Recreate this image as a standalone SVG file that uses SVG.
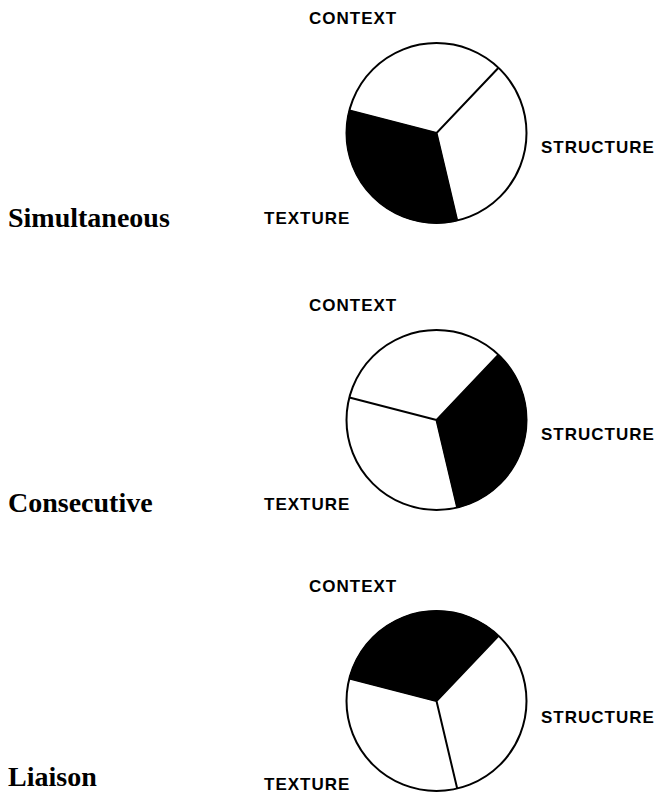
<svg xmlns="http://www.w3.org/2000/svg" width="657" height="793" viewBox="0 0 657 793">
<style>
.bg{fill:#fff}
.pie{fill:#fff;stroke:#000;stroke-width:2}
.blk{fill:#000;stroke:#000;stroke-width:1}
.spoke{stroke:#000;stroke-width:2;fill:none;stroke-linecap:butt}
.lab{font-family:"Liberation Sans",Arial,sans-serif;font-weight:bold;font-size:17px;letter-spacing:1px;fill:#000}
.title{font-family:"Liberation Serif","Times New Roman",serif;font-weight:bold;font-size:28px;fill:#000}
</style>
<rect class="bg" x="0" y="0" width="657" height="793"/>
<g id="simultaneous">
<circle class="pie" cx="436.5" cy="133" r="90"/>
<path class="blk" d="M436.5 133 L457.2 220.6 A90 90 0 0 1 349.4 110.5 Z"/>
<path class="spoke" d="M498.5 67.7 L436.5 133 L457.2 220.6 M349.4 110.5 L436.5 133"/>
<text class="lab" x="309" y="24">CONTEXT</text>
<text class="lab" x="541" y="153">STRUCTURE</text>
<text class="lab" x="264" y="224">TEXTURE</text>
<text class="title" x="8" y="227">Simultaneous</text>
</g>
<g id="consecutive">
<circle class="pie" cx="436.5" cy="420" r="90"/>
<path class="blk" d="M436.5 420 L498.5 354.7 A90 90 0 0 1 457.2 507.6 Z"/>
<path class="spoke" d="M498.5 354.7 L436.5 420 L457.2 507.6 M349.4 397.5 L436.5 420"/>
<text class="lab" x="309" y="311">CONTEXT</text>
<text class="lab" x="541" y="440">STRUCTURE</text>
<text class="lab" x="264" y="510">TEXTURE</text>
<text class="title" x="8" y="512">Consecutive</text>
</g>
<g id="liaison">
<circle class="pie" cx="436.5" cy="701" r="90"/>
<path class="blk" d="M436.5 701 L349.4 678.5 A90 90 0 0 1 498.5 635.7 Z"/>
<path class="spoke" d="M498.5 635.7 L436.5 701 L457.2 788.6 M349.4 678.5 L436.5 701"/>
<text class="lab" x="309" y="592">CONTEXT</text>
<text class="lab" x="541" y="723">STRUCTURE</text>
<text class="lab" x="264" y="790">TEXTURE</text>
<text class="title" x="8" y="786">Liaison</text>
</g>
<g id="connectors"></g>
</svg>
